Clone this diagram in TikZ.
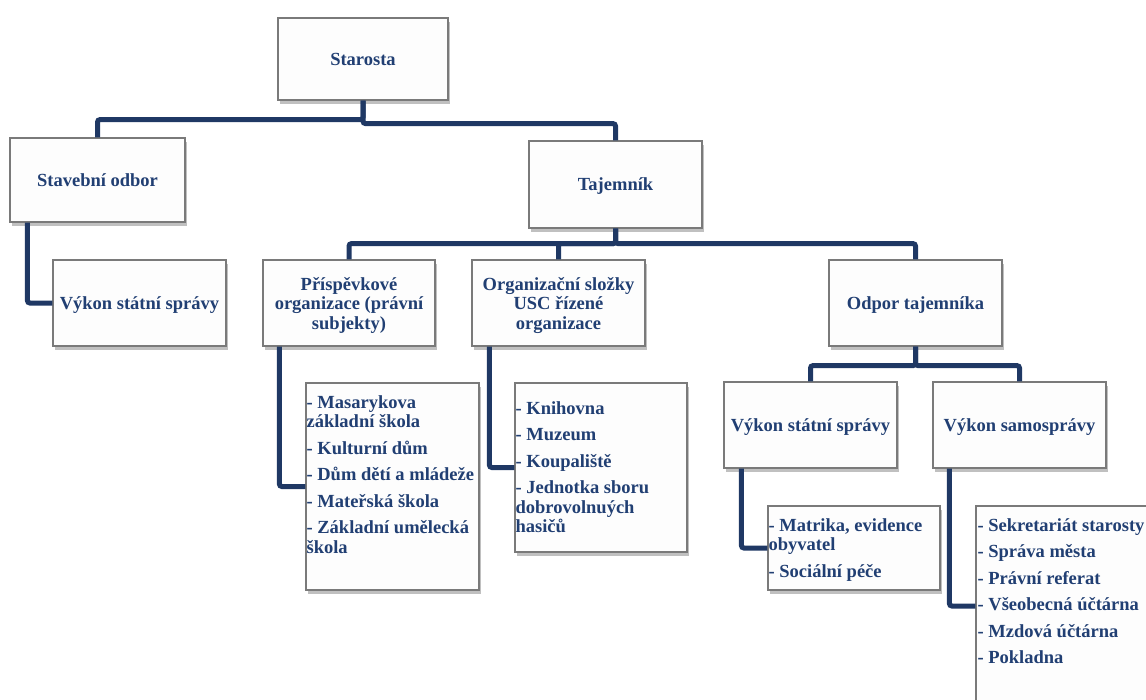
\documentclass[tikz,border=0pt]{standalone}
\usepackage{fontspec}
\setmainfont{Liberation Serif}
\usetikzlibrary{shadows}
\definecolor{linec}{HTML}{1F3864}
\definecolor{textc}{HTML}{213F73}
\definecolor{boxborder}{HTML}{7A7A7A}
\definecolor{boxfill}{HTML}{FDFDFD}
\tikzset{
  orgbox/.style={draw=boxborder, line width=1.2pt, fill=boxfill, inner sep=2pt, text depth=0pt,
    drop shadow={shadow xshift=1.5pt, shadow yshift=-4pt, opacity=0.45, fill=black!55},
    font=\fontsize{18.5}{19.5}\selectfont\bfseries, text=textc, align=center},
  listtext/.style={inner sep=0pt, anchor=north west, align=left,
    font=\fontsize{18.5}{19.5}\selectfont\bfseries, text=textc},
  conn/.style={draw=linec, line width=5pt, rounded corners=2.5pt}
}
\begin{document}
\begin{tikzpicture}[x=1pt,y=-1pt]
\useasboundingbox (0,0) rectangle (1146,699);
\clip (0,0) rectangle (1146,699);
% top level boxes
\node[orgbox, minimum width=170pt, minimum height=82pt] (starosta) at (363,59) {Starosta};
\node[orgbox, minimum width=175pt, minimum height=84pt] (stavebni) at (97.5,180) {Stavební odbor};
\node[orgbox, minimum width=173pt, minimum height=87pt] (tajemnik) at (615.5,184.5) {Tajemník};
% second level
\node[orgbox, minimum width=173pt, minimum height=86pt] (vss1) at (139.5,303) {Výkon státní správy};
\node[orgbox, minimum width=172pt, minimum height=86pt] (prisp) at (349,303) {Příspěvkové\\organizace (právní\\subjekty)};
\node[orgbox, minimum width=173pt, minimum height=86pt] (orgsl) at (558.5,303) {Organizační složky\\USC řízené\\organizace};
\node[orgbox, minimum width=173pt, minimum height=86pt] (odpor) at (915.5,303) {Odpor tajemníka};
% third level
\node[orgbox, minimum width=173pt, minimum height=86pt] (vss2) at (810.5,425) {Výkon státní správy};
\node[orgbox, minimum width=173pt, minimum height=86pt] (samo) at (1019.5,425) {Výkon samosprávy};
% list boxes
\node[orgbox, minimum width=173pt, minimum height=207pt] (list1) at (392.5,486.5) {};
\node[orgbox, minimum width=172pt, minimum height=169pt] (list2) at (601,467.5) {};
\node[orgbox, minimum width=172pt, minimum height=84pt] (list3) at (854,548) {};
\node[orgbox, minimum width=184pt, minimum height=200pt] (list4) at (1068,606) {};
% list texts
\node[listtext] (list1t) at ([xshift=1pt,yshift=-13pt]list1.north west)
  {- Masarykova\\základní škola\\[7pt]- Kulturní dům\\[7pt]- Dům dětí a mládeže\\[7pt]- Mateřská škola\\[7pt]- Základní umělecká\\škola};
\node[listtext] (list2t) at ([xshift=1pt,yshift=-19pt]list2.north west)
  {- Knihovna\\[7pt]- Muzeum\\[7pt]- Koupaliště\\[7pt]- Jednotka sboru\\dobrovolnuých\\hasičů};
\node[listtext] (list3t) at ([xshift=1pt,yshift=-13pt]list3.north west)
  {- Matrika, evidence\\obyvatel\\[7pt]- Sociální péče};
\node[listtext] (list4t) at ([xshift=2pt,yshift=-13pt]list4.north west)
  {- Sekretariát starosty\\[7pt]- Správa města\\[7pt]- Právní referat\\[7pt]- Všeobecná účtárna\\[7pt]- Mzdová účtárna\\[7pt]- Pokladna};
% connectors
\draw[conn] (starosta.south) -- ++(0,19) -| (stavebni.north);
\draw[conn] (starosta.south) -- ++(0,23) -| (tajemnik.north);
\draw[conn] ([xshift=18pt]stavebni.south west) |- (vss1.west);
\draw[conn] (tajemnik.south) -- ++(0,15) -| (prisp.north);
\draw[conn] (tajemnik.south) -- ++(0,15) -| (orgsl.north);
\draw[conn] (tajemnik.south) -- ++(0,15) -| (odpor.north);
\draw[conn] ([xshift=17pt]prisp.south west) |- (list1.west);
\draw[conn] ([xshift=18pt]orgsl.south west) |- (list2.west);
\draw[conn] (odpor.south) -- ++(0,19) -| (vss2.north);
\draw[conn] (odpor.south) -- ++(0,19) -| (samo.north);
\draw[conn] ([xshift=18pt]vss2.south west) |- (list3.west);
\draw[conn] ([xshift=17pt]samo.south west) |- (list4.west);
\end{tikzpicture}
\end{document}
